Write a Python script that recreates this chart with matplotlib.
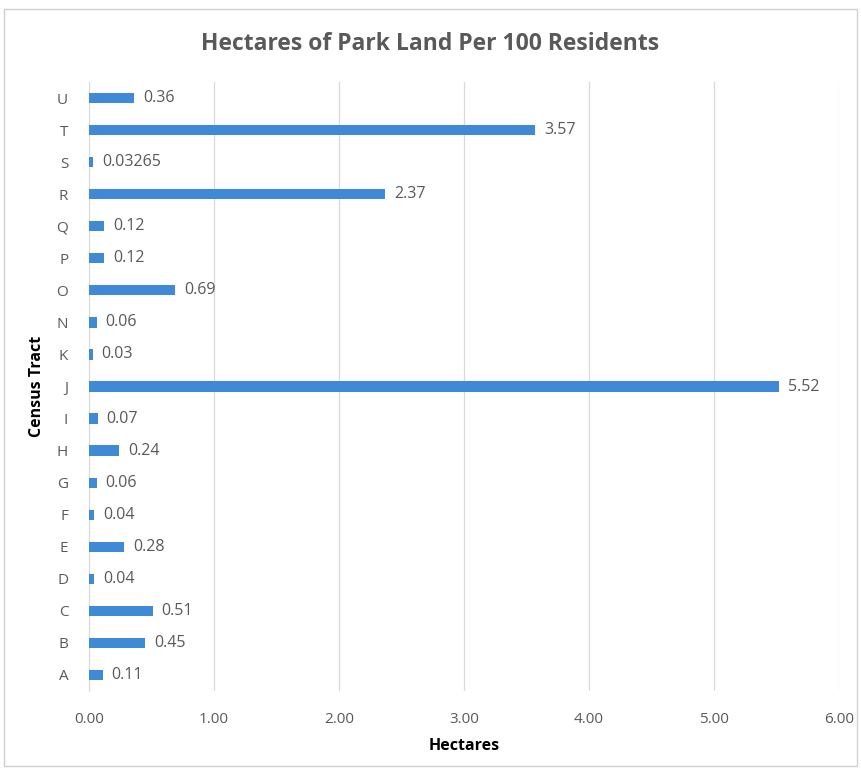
import matplotlib.pyplot as plt
from matplotlib.patches import Rectangle

plt.rcParams['font.family'] = ['Open Sans', 'DejaVu Sans']

tracts = ['A', 'B', 'C', 'D', 'E', 'F', 'G', 'H', 'I', 'J', 'K',
          'N', 'O', 'P', 'Q', 'R', 'S', 'T', 'U']
hectares = [0.11, 0.45, 0.51, 0.04, 0.28, 0.04, 0.06, 0.24, 0.07, 5.52, 0.03,
            0.06, 0.69, 0.12, 0.12, 2.37, 0.03265, 3.57, 0.36]
value_labels = ['0.11', '0.45', '0.51', '0.04', '0.28', '0.04', '0.06', '0.24', '0.07', '5.52', '0.03',
                '0.06', '0.69', '0.12', '0.12', '2.37', '0.03265', '3.57', '0.36']
xticks = [0, 1, 2, 3, 4, 5, 6]

grey = '#595959'

fig = plt.figure(figsize=(8.61, 7.71), dpi=100)
ax = fig.add_axes([0.1034, 0.1038, 0.8711, 0.7898])

pos = list(range(len(tracts)))
ax.barh(pos, hectares, height=0.32, color='#4089d6', zorder=3)

for p, v, s in zip(pos, hectares, value_labels):
    ax.text(v + 0.07, p, s, va='center', ha='left', fontsize=11.5, color=grey)

ax.set_xlim(0, 6)
ax.set_ylim(-0.5, len(tracts) - 0.5)
ax.set_yticks(pos)
ax.set_yticklabels(tracts)
ax.set_xticks(xticks)
ax.set_xticklabels(['%.2f' % t for t in xticks])
ax.tick_params(axis='both', length=0, labelsize=11, labelcolor=grey)
ax.tick_params(axis='y', pad=15)
ax.tick_params(axis='x', pad=15)

ax.grid(axis='x', color='#d9d9d9', linewidth=0.9, zorder=0)
for side in ['top', 'right', 'bottom']:
    ax.spines[side].set_visible(False)
ax.spines['left'].set_color('#d9d9d9')

ax.set_xlabel('Hectares', fontsize=11.5, fontweight='bold', color='black', labelpad=8)
ax.set_ylabel('Census Tract', fontsize=11.5, fontweight='bold', color='black', labelpad=8)

fig.text(0.5, 0.943, 'Hectares of Park Land Per 100 Residents', ha='center', va='center',
         fontsize=16.5, fontweight='bold', color=grey)

fig.patches.append(Rectangle((0.005, 0.006), 0.99, 0.982, transform=fig.transFigure,
                             fill=False, edgecolor='#d0d0d0', linewidth=1))

fig.savefig('out.png', dpi=100)
